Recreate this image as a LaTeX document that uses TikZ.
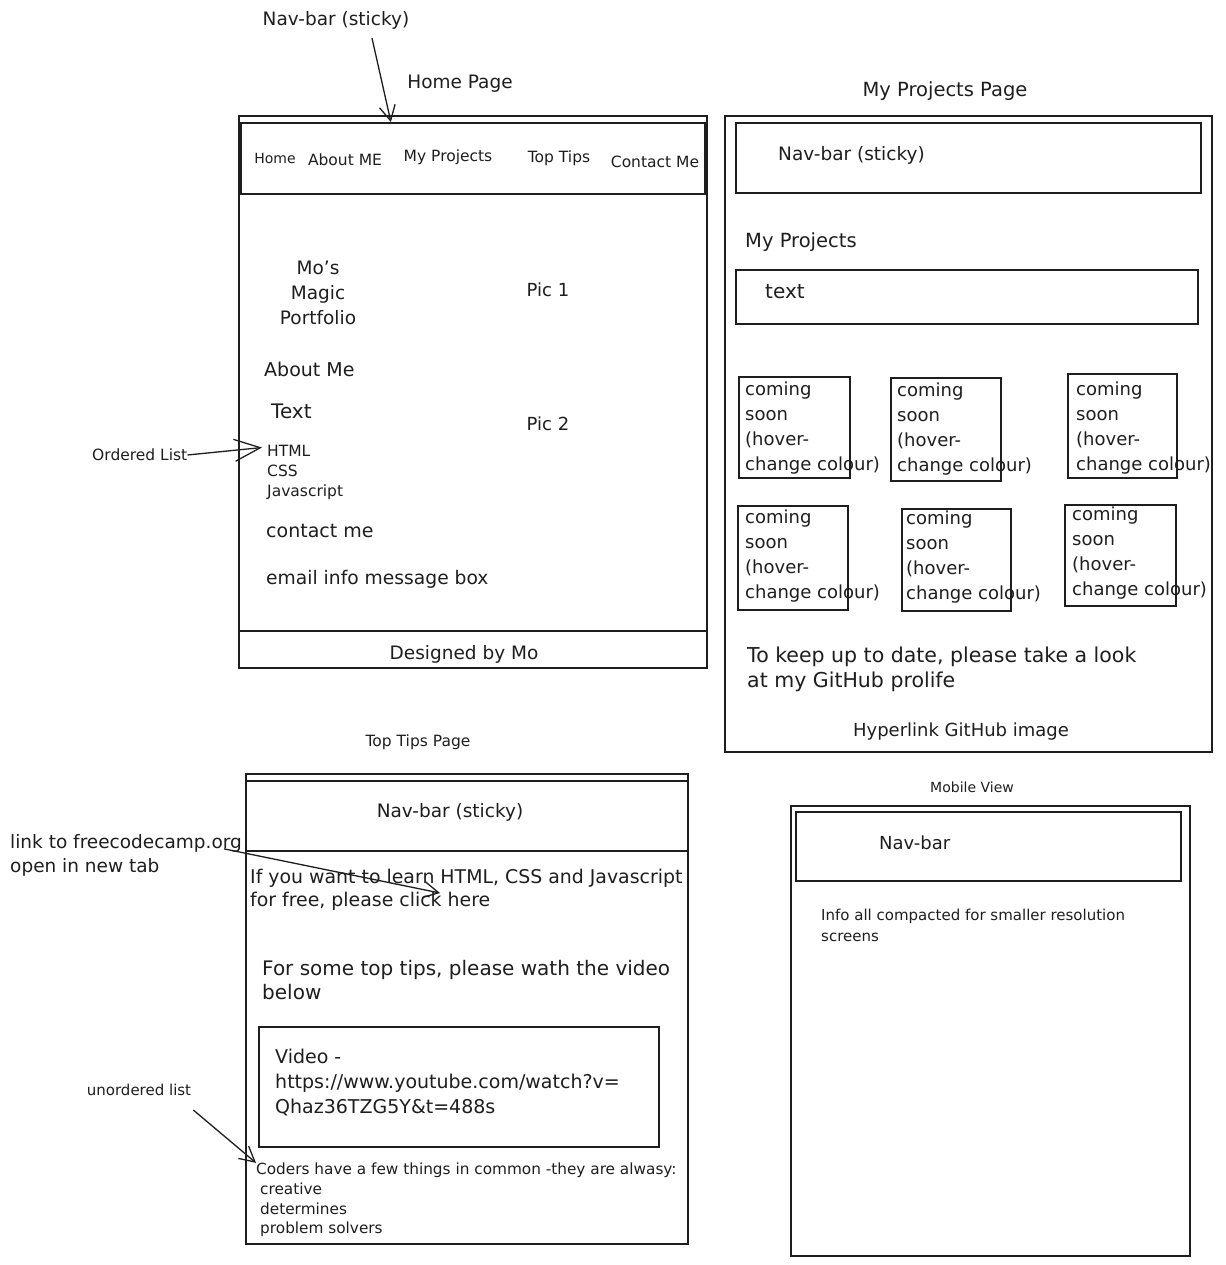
\documentclass[tikz,border=0pt]{standalone}
\usepackage{fontspec}
\setmainfont{DejaVu Sans}
\usetikzlibrary{arrows.meta}
\definecolor{ink}{HTML}{1E1E1E}
\tikzset{
  frame/.style={draw=ink, line width=1.8pt, inner sep=0pt, anchor=north west},
  lbl/.style={inner sep=0pt, text=ink},
  lw/.style={lbl, anchor=west, align=left},
  fs/.style 2 args={font=\fontsize{#1}{#2}\selectfont},
  arr/.style={draw=ink, line width=1.3pt, -{Straight Barb[length=15pt,width=16pt,line width=1.3pt]}},
  bigarr/.style={draw=ink, line width=1.3pt, -{Straight Barb[length=26pt,width=22pt,line width=1.3pt]}},
}
\newcommand{\frm}[5]{\node[frame, minimum width={(#4-#2)*1pt}, minimum height={(#5-#3)*1pt}] (#1) at (#2,#3) {};}
\newcommand{\card}[7]{\frm{#1}{#2}{#3}{#4}{#5}
  \node[lw, fs={18}{25.3}] (#1t) at (#6,#7) {coming\\soon\\(hover-\\change colour)};}
\begin{document}
\begin{tikzpicture}[x=1pt,y=-1pt]
\useasboundingbox (0,0) rectangle (1225,1265);

% ---------------- Home page ----------------
\frm{home}{238}{115}{706}{667}
\frm{homenav}{240}{122}{704}{193}
\frm{homefoot}{238}{630}{706}{667}
\node[lbl, fs={18.5}{22}] (navlbl) at (336,20) {Nav-bar (sticky)};
\node[lbl, fs={18.5}{22}] (homettl) at (460,84) {Home Page};
\node[lbl, fs={14}{16}] (nhome) at (275,158) {Home};
\node[lbl, fs={15.5}{18}] (nabout) at (345,160) {About ME};
\node[lbl, fs={15.5}{18}] (nproj) at (448,157) {My Projects};
\node[lbl, fs={15.5}{18}] (ntips) at (559,158) {Top Tips};
\node[lbl, fs={15.5}{18}] (ncontact) at (655,162) {Contact Me};
\node[lbl, fs={18.5}{25}, align=center] (mo) at (318,293) {Mo's\\Magic\\Portfolio};
\node[lbl, fs={18}{22}] (pic1) at (548,290) {Pic 1};
\node[lbl, fs={18}{22}] (pic2) at (548,424) {Pic 2};
\node[lw, fs={19}{22}] (aboutme) at (264,369) {About Me};
\node[lw, fs={20}{22}] (hometext) at (271,411) {Text};
\node[lw, fs={15.5}{20}] (olist) at (267,472) {HTML\\CSS\\Javascript};
\node[lw, fs={19}{22}] (contactme) at (266,531) {contact me};
\node[lw, fs={18.7}{22}] (email) at (266,579) {email info message box};
\node[lbl, fs={18.5}{22}] (designed) at (464,654) {Designed by Mo};
\node[lw, fs={15.5}{18}] (ol) at (92,455) {Ordered List};
\draw[arr] ([xshift=36pt,yshift=-9pt]navlbl.south) -- ([xshift=-82pt]homenav.north);
\draw[bigarr] (ol.east) -- ([xshift=-5pt,yshift=-3pt]olist.north west);

% ---------------- My Projects page ----------------
\frm{proj}{724}{115}{1211}{751}
\frm{projnav}{735}{122}{1200}{192}
\frm{projtext}{735}{269}{1197}{323}
\node[lbl, fs={19.5}{22}] (projttl) at (945,91) {My Projects Page};
\node[lw, fs={18.5}{22}] (projnavt) at (778,155) {Nav-bar (sticky)};
\node[lw, fs={19.5}{22}] (projhead) at (745,242) {My Projects};
\node[lw, fs={20}{22}] (projtextt) at (765,292) {text};
\card{c1}{738}{376}{849}{477}{745}{428}
\card{c2}{890}{377}{1000}{480}{897}{429}
\card{c3}{1067}{373}{1176}{477}{1076}{428}
\card{c4}{737}{505}{847}{609}{745}{556}
\card{c5}{901}{508}{1010}{610}{906}{557}
\card{c6}{1064}{504}{1175}{605}{1072}{553}
\node[lw, fs={20.5}{25}] (keep) at (747,669) {To keep up to date, please take a look\\at my GitHub prolife};
\node[lbl, fs={18}{22}] (hyper) at (961,732) {Hyperlink GitHub image};

% ---------------- Top Tips page ----------------
\frm{tips}{245}{773}{687}{1243}
\frm{tipsnav}{245}{780}{687}{850}
\frm{video}{258}{1026}{658}{1146}
\node[lbl, fs={15.5}{18}] (tipsttl) at (418,742) {Top Tips Page};
\node[lbl, fs={18.5}{22}] (tipsnavt) at (450,812) {Nav-bar (sticky)};
\node[lw, fs={18.9}{23}] (ifyou) at (250,890) {If you want to learn HTML, CSS and Javascript\\for free, please click here};
\node[lw, fs={20}{24}] (forsome) at (262,980) {For some top tips, please wath the video\\below};
\node[lw, fs={19}{25}] (vidt) at (275,1082) {Video -\\https://www.youtube.com/watch?v=\\Qhaz36TZG5Y\&t=488s};
\node[lw, fs={15.3}{19.7}] (coders) at (256,1200) {Coders have a few things in common -they are alwasy:\\\hspace*{4pt}creative\\\hspace*{4pt}determines\\\hspace*{4pt}problem solvers};
\node[lw, fs={18.5}{24}] (lnk) at (10,855) {link to freecodecamp.org\\open in new tab};
\node[lbl, fs={15}{17}] (ul) at (139,1090) {unordered list};
\coordinate (clickhere) at (440,893);
\draw[arr] ([xshift=-18pt,yshift=-15pt]lnk.north east) -- (clickhere);
\draw[arr] ([xshift=2pt,yshift=-14pt]ul.south east) -- (coders.north west);

% ---------------- Mobile view ----------------
\frm{mob}{790}{805}{1189}{1255}
\frm{mobnav}{795}{811}{1180}{880}
\node[lbl, fs={14}{17}] (mobttl) at (972,787) {Mobile View};
\node[lw, fs={18}{22}] (mobnavt) at (879,843) {Nav-bar};
\node[lw, fs={15}{21}] (info) at (821,925) {Info all compacted for smaller resolution\\screens};
\end{tikzpicture}
\end{document}
